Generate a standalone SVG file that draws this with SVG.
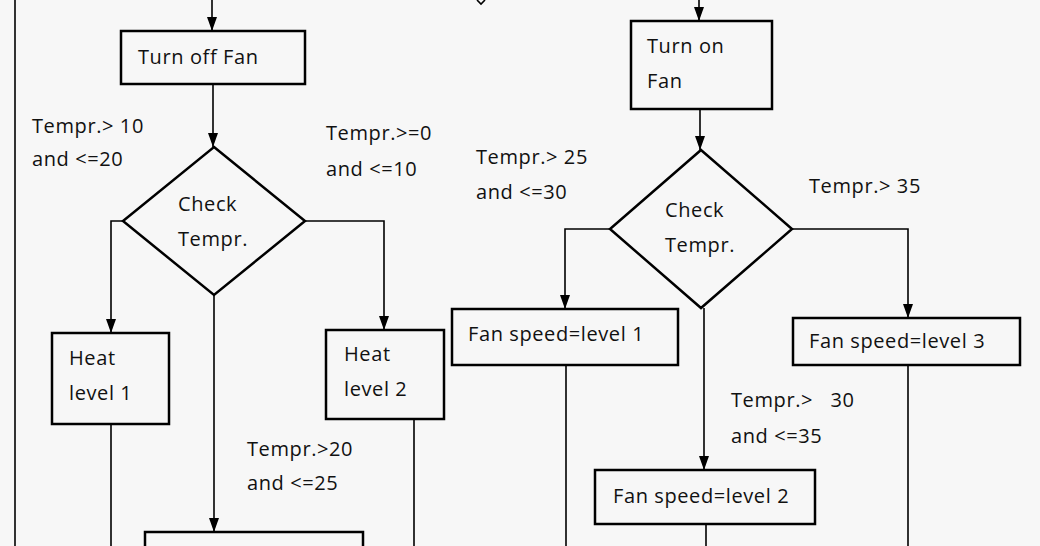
<svg xmlns="http://www.w3.org/2000/svg" width="1040" height="546" viewBox="0 0 1040 546">
<style>
.b{fill:none;stroke:#000;stroke-width:2.5}
.l{fill:none;stroke:#000;stroke-width:1.6}
text{font-family:"Open Sans","Liberation Sans",sans-serif;font-size:20px;letter-spacing:0.6px;fill:#111}
</style>
<defs><marker id="ar" viewBox="0 0 14 10" refX="14" refY="5" markerWidth="14" markerHeight="10" markerUnits="userSpaceOnUse" orient="auto"><path d="M0,0 L14,5 L0,10 Z" fill="#000"/></marker></defs>
<rect width="1040" height="546" fill="#f7f7f7"/>
<g id="connectors">
<line class="l" x1="15" y1="0" x2="15" y2="546"/>
<path class="l" d="M477,0 L481,4 L485,0"/>
<path class="l" d="M212,0 V31" marker-end="url(#ar)"/>
<path class="l" d="M213,84 V147" marker-end="url(#ar)"/>
<path class="l" d="M123,221 H111 V333" marker-end="url(#ar)"/>
<path class="l" d="M305,221 H384 V330" marker-end="url(#ar)"/>
<path class="l" d="M214,295 V532" marker-end="url(#ar)"/>
<path class="l" d="M111,424 V546 M414,419 V546"/>
<path class="l" d="M699,0 V21" marker-end="url(#ar)"/>
<path class="l" d="M700,109 V150" marker-end="url(#ar)"/>
<path class="l" d="M610,229 H565 V309" marker-end="url(#ar)"/>
<path class="l" d="M792,229 H908 V318" marker-end="url(#ar)"/>
<path class="l" d="M704,308 V470" marker-end="url(#ar)"/>
<path class="l" d="M566,365 V546 M908,365 V546 M706,524 V546"/>
</g>
<g id="turn-off"><rect class="b" x="121" y="31" width="184" height="53"/><text x="138" y="64">Turn off Fan</text></g>
<g id="check1"><polygon class="b" points="214,147 305,221 214,295 123,221"/><text x="178" y="211">Check</text><text x="178" y="246">Tempr.</text></g>
<g id="heat1"><rect class="b" x="52" y="333" width="117" height="91"/><text x="69" y="365">Heat</text><text x="69" y="400">level 1</text></g>
<g id="heat2"><rect class="b" x="326" y="330" width="118" height="89"/><text x="344" y="361">Heat</text><text x="344" y="396">level 2</text></g>
<g id="box-bottom-left"><rect class="b" x="145" y="532" width="218" height="30"/></g>
<g id="turn-on"><rect class="b" x="631" y="21" width="141" height="88"/><text x="647" y="53">Turn on</text><text x="647" y="88">Fan</text></g>
<g id="check2"><polygon class="b" points="701,150 792,229 701,308 610,229"/><text x="665" y="217">Check</text><text x="665" y="252">Tempr.</text></g>
<g id="fan1"><rect class="b" x="452" y="309" width="226" height="56"/><text x="468" y="341">Fan speed=level 1</text></g>
<g id="fan3"><rect class="b" x="793" y="318" width="227" height="47"/><text x="809" y="348">Fan speed=level 3</text></g>
<g id="fan2"><rect class="b" x="595" y="470" width="220" height="54"/><text x="613" y="503">Fan speed=level 2</text></g>
<g id="labels">
<text x="32" y="133">Tempr.&gt; 10</text><text x="32" y="166">and &lt;=20</text>
<text x="326" y="140">Tempr.&gt;=0</text><text x="326" y="176">and &lt;=10</text>
<text x="247" y="456">Tempr.&gt;20</text><text x="247" y="490">and &lt;=25</text>
<text x="476" y="164">Tempr.&gt; 25</text><text x="476" y="199">and &lt;=30</text>
<text x="809" y="193">Tempr.&gt; 35</text>
<text x="731" y="407" xml:space="preserve">Tempr.&gt;   30</text><text x="731" y="443">and &lt;=35</text>
</g>
</svg>
